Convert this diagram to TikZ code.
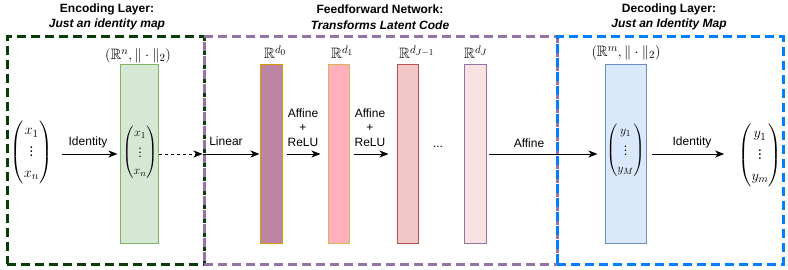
\documentclass[tikz,border=0pt]{standalone}
\usepackage{amsmath,amssymb}
\usepackage{fontspec}
\setmainfont{Liberation Sans}
\usetikzlibrary{arrows.meta}
\DeclareMathSizes{15}{15}{11}{9}
\DeclareMathSizes{12.5}{12.5}{9}{7}
\definecolor{encgreen}{HTML}{083D08}
\definecolor{ffnpurple}{HTML}{9673A6}
\definecolor{decblue}{HTML}{007FFF}
\definecolor{gfill}{HTML}{D5E8D4}
\definecolor{gdraw}{HTML}{82B366}
\definecolor{bfill}{HTML}{DAE8FC}
\definecolor{bdraw}{HTML}{6C8EBF}
\definecolor{c0fill}{HTML}{BB85A3}
\definecolor{c0draw}{HTML}{D79B00}
\definecolor{c1fill}{HTML}{FFB0BC}
\definecolor{c1draw}{HTML}{D6B656}
\definecolor{c2fill}{HTML}{F0C8C8}
\definecolor{c2draw}{HTML}{B85450}
\definecolor{c3fill}{HTML}{FAE2E2}
\definecolor{c3draw}{HTML}{9673A6}
\begin{document}
\begin{tikzpicture}[x=1pt,y=-1pt,
  title/.style={font=\fontsize{12}{15.5}\selectfont\bfseries, align=center, inner sep=0pt},
  lbl/.style={font=\fontsize{12}{14.5}\selectfont, inner sep=0pt, align=center},
  mathlbl/.style={font=\fontsize{15}{18}\selectfont, inner sep=0pt},
  bigvec/.style={font=\fontsize{15}{18}\selectfont, inner sep=0pt},
  smallvec/.style={font=\fontsize{12.5}{15}\selectfont, inner sep=0pt},
  group/.style={line width=3pt, dash pattern=on 9pt off 5pt, inner sep=0pt},
  bar/.style={draw, line width=1pt, minimum height=178pt, inner sep=0pt},
  arr/.style={-{Stealth[length=9pt,width=7pt,inset=2.5pt]}, line width=1pt}
]
\useasboundingbox (0,0) rectangle (788,270);

% group boxes
\node[group, draw=encgreen, minimum width=197pt, minimum height=227pt] (enc) at (105.5,150.5) {};
\node[group, draw=ffnpurple, minimum width=353pt, minimum height=227pt] (ffn) at (380.5,150.5) {};
\node[group, draw=decblue, minimum width=226pt, minimum height=227pt] (dec) at (670,150.5) {};

% titles
\node[title] (enct) at (107,17) {Encoding Layer:\\\textit{Just an identity map}};
\node[title] (ffnt) at (380,17) {Feedforward Network:\\\textit{Transforms Latent Code}};
\node[title] (dect) at (669,17) {Decoding Layer:\\\textit{Just an Identity Map}};

% bars
\node[bar, fill=gfill, draw=gdraw, minimum width=38pt] (green) at (139,154) {};
\node[bar, fill=c0fill, draw=c0draw, minimum width=22pt] (b0) at (271,154) {};
\node[bar, fill=c1fill, draw=c1draw, minimum width=21pt] (b1) at (338.5,154) {};
\node[bar, fill=c2fill, draw=c2draw, minimum width=21pt] (b2) at (407.5,154) {};
\node[bar, fill=c3fill, draw=c3draw, minimum width=22pt] (b3) at (475,154) {};
\node[bar, fill=bfill, draw=bdraw, minimum width=41pt] (blue) at (625.5,154) {};

% space labels
\node[mathlbl] (gl) at (138,56) {$(\mathbb{R}^n,\|\cdot\|_2)$};
\node[mathlbl, anchor=west] (l0) at (264,52) {$\mathbb{R}^{d_0}$};
\node[mathlbl, anchor=west] (l1) at (331,52) {$\mathbb{R}^{d_1}$};
\node[mathlbl, anchor=west] (l2) at (399,52) {$\mathbb{R}^{d_{J-1}}$};
\node[mathlbl, anchor=west] (l3) at (464,52) {$\mathbb{R}^{d_J}$};
\node[mathlbl] (bl) at (626,53) {$(\mathbb{R}^m,\|\cdot\|_2)$};

% vectors
\node[bigvec] (xin) at (31.5,152) {$\renewcommand\arraystretch{1.15}\begin{pmatrix}x_1\\\vdots\\x_n\end{pmatrix}$};
\node[smallvec] (xg) at (140,152) {$\renewcommand\arraystretch{1.15}\begin{pmatrix}x_1\\\vdots\\x_n\end{pmatrix}$};
\node[smallvec] (yb) at (625.5,150) {$\renewcommand\arraystretch{1.15}\begin{pmatrix}y_1\\\vdots\\y_M\end{pmatrix}$};
\node[bigvec] (yout) at (760,155) {$\renewcommand\arraystretch{1.15}\begin{pmatrix}y_1\\\vdots\\y_m\end{pmatrix}$};

% arrows
\draw[arr, shorten <=10pt, shorten >=2pt] (xin.east |- green.west) -- (green.west);
\node[lbl] (id1) at (88,142) {Identity};
\draw[-{Stealth[length=9pt,width=7pt,inset=2.5pt]}, line width=1pt, dash pattern=on 3pt off 3pt] (green.east) -- (ffn.west |- green.east);
\draw[arr] (ffn.west |- b0.west) -- (b0.west);
\node[lbl] (lin) at (226,141) {Linear};
\draw[arr, shorten <=4pt, shorten >=7pt] (b0.east) -- (b1.west);
\node[lbl] (ar1) at (303,127.5) {Affine\\+\\ReLU};
\draw[arr, shorten <=4pt, shorten >=8pt] (b1.east) -- (b2.west);
\node[lbl] (ar2) at (370,127.5) {Affine\\+\\ReLU};
\node[lbl] (dots) at (438,147) {...};
\draw[arr, shorten <=2pt, shorten >=7pt] (b3.east) -- (blue.west);
\node[lbl] (aff) at (529,143) {Affine};
\draw[arr, shorten <=5pt, shorten >=14pt] (blue.east) -- (yout.west |- blue.east);
\node[lbl] (id2) at (692,142) {Identity};
\end{tikzpicture}
\end{document}
